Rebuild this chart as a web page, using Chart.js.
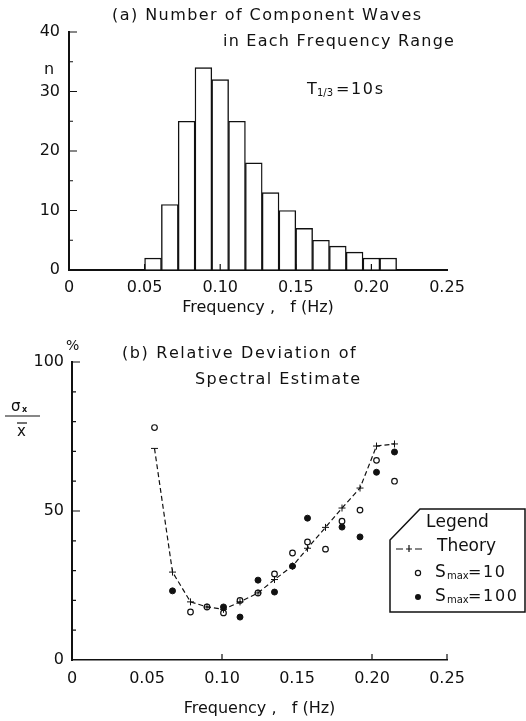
<!DOCTYPE html>
<html>
<head>
<meta charset="utf-8">
<script src="https://cdn.jsdelivr.net/npm/chart.js@4.4.1/dist/chart.umd.min.js"></script>
<style>
  html, body { margin: 0; padding: 0; background: #fff; }
  body { width: 526px; height: 721px; position: relative; overflow: hidden; }
  canvas { position: absolute; left: 0; }
  #histChart { top: 0; }
  #devChart { top: 325px; }
</style>
</head>
<body>
<canvas id="histChart" width="526" height="325"></canvas>
<canvas id="devChart" width="526" height="396"></canvas>
<script>
// (a) number of component waves in each frequency bin (bins 1/90 Hz wide, from 0.05 Hz)
const binCenters = [0.05556, 0.06667, 0.07778, 0.08889, 0.10000, 0.11111, 0.12222, 0.13333,
                    0.14444, 0.15556, 0.16667, 0.17778, 0.18889, 0.20000, 0.21111];
const waveCounts = [2, 11, 25, 34, 32, 25, 18, 13, 10, 7, 5, 4, 3, 2, 2];

// (b) relative deviation of spectral estimate (%)
const freqB   = [0.055, 0.067, 0.079, 0.090, 0.101, 0.112, 0.124, 0.135, 0.147, 0.157, 0.169, 0.180, 0.192, 0.203, 0.215];
const theory  = [71, 29.5, 19.5, 17.8, 17, 19.5, 22.5, 27, 31.5, 37.5, 44.5, 51, 57.7, 71.8, 72.5];
const smax10  = [78, null, 16.1, 17.8, 15.8, 20, 22.5, 28.9, 35.9, 39.6, 37.2, 46.6, 50.3, 67, 60];
const smax100 = [null, 23.2, null, null, 17.8, 14.4, 26.8, 22.8, 31.5, 47.6, null, 44.6, 41.3, 63, 69.8];

const INK = '#111';
const FONT = '"DejaVu Sans", sans-serif';

function pairs(xs, ys) {
  const out = [];
  xs.forEach((x, i) => { if (ys[i] !== null) out.push({ x: x, y: ys[i] }); });
  return out;
}

const fmtFreq = v => (v === 0 ? '0' : v.toFixed(2));

// draw text letter by letter so it spans a given width (lettering is widely spaced)
function spaced(ctx, text, x, y, width) {
  const natural = ctx.measureText(text).width;
  const extra = text.length > 1 ? Math.max(0, (width - natural) / (text.length - 1)) : 0;
  let cx = x;
  for (const ch of text) {
    ctx.fillText(ch, cx, y);
    cx += ctx.measureText(ch).width + extra;
  }
  return cx - extra;
}

// small tick marks drawn inwards from the axes
const innerTicks = {
  id: 'innerTicks',
  afterDatasetsDraw(chart, args, opts) {
    const { ctx, chartArea, scales } = chart;
    const x = scales.x, y = scales.y;
    ctx.save();
    ctx.strokeStyle = INK;
    ctx.lineWidth = 1.2;
    ctx.beginPath();
    (opts.yMajor || []).forEach(v => {
      const py = y.getPixelForValue(v);
      ctx.moveTo(chartArea.left, py); ctx.lineTo(chartArea.left + 8, py);
    });
    (opts.yMinor || []).forEach(v => {
      const py = y.getPixelForValue(v);
      ctx.moveTo(chartArea.left, py); ctx.lineTo(chartArea.left + 4, py);
    });
    (opts.xMajor || []).forEach(v => {
      const px = x.getPixelForValue(v);
      ctx.moveTo(px, chartArea.bottom); ctx.lineTo(px, chartArea.bottom - 6);
    });
    ctx.stroke();
    ctx.restore();
  }
};

// (a) texts
const histNotes = {
  id: 'histNotes',
  afterDraw(chart) {
    const ctx = chart.ctx;
    ctx.save();
    ctx.fillStyle = INK;
    ctx.textBaseline = 'middle';
    ctx.textAlign = 'left';
    ctx.font = '16px ' + FONT;
    spaced(ctx, '(a) Number of Component Waves', 112, 16, 308);
    spaced(ctx, 'in Each Frequency Range', 223, 42, 229);
    ctx.fillText('n', 44, 70);
    // T1/3 = 10s
    ctx.fillText('T', 307, 90);
    ctx.font = '10px ' + FONT;
    ctx.fillText('1/3', 317, 93);
    ctx.font = '16px ' + FONT;
    spaced(ctx, '=10s', 336, 90, 47);
    ctx.restore();
  }
};

// (b) texts, y label and legend box
const devNotes = {
  id: 'devNotes',
  afterDraw(chart) {
    const ctx = chart.ctx;
    ctx.save();
    ctx.fillStyle = INK;
    ctx.strokeStyle = INK;
    ctx.textBaseline = 'middle';
    ctx.textAlign = 'left';
    ctx.font = '16px ' + FONT;
    spaced(ctx, '(b) Relative Deviation of', 122, 29, 233);
    spaced(ctx, 'Spectral Estimate', 195, 55, 165);
    ctx.font = '14px ' + FONT;
    ctx.fillText('%', 66, 21);

    // sigma_x over x-bar
    ctx.font = '15px ' + FONT;
    ctx.fillText('\u03c3', 11, 82);
    ctx.font = 'bold 8px ' + FONT;
    ctx.fillText('x', 22, 85);
    ctx.lineWidth = 1.2;
    ctx.beginPath();
    ctx.moveTo(5, 91); ctx.lineTo(40, 91);
    ctx.stroke();
    ctx.font = '15px ' + FONT;
    ctx.fillText('x', 17, 107);
    ctx.beginPath();
    ctx.moveTo(17, 98); ctx.lineTo(27, 98);
    ctx.stroke();

    // legend box with cut corner
    ctx.lineWidth = 1.5;
    ctx.beginPath();
    ctx.moveTo(390, 287);
    ctx.lineTo(390, 215);
    ctx.lineTo(420, 184);
    ctx.lineTo(525, 184);
    ctx.lineTo(525, 287);
    ctx.closePath();
    ctx.stroke();

    ctx.font = '17px ' + FONT;
    spaced(ctx, 'Legend', 426, 198, 61);
    spaced(ctx, 'Theory', 437, 222, 58);

    // theory sample: dashed line with a cross
    ctx.lineWidth = 1.2;
    ctx.beginPath();
    ctx.moveTo(396, 224); ctx.lineTo(403, 224);
    ctx.moveTo(415, 224); ctx.lineTo(422, 224);
    ctx.moveTo(406, 224); ctx.lineTo(412, 224);
    ctx.moveTo(409, 220); ctx.lineTo(409, 227);
    ctx.stroke();

    // open circle sample
    ctx.beginPath();
    ctx.arc(418, 248, 2.6, 0, Math.PI * 2);
    ctx.stroke();
    // filled circle sample
    ctx.beginPath();
    ctx.arc(418, 272, 3, 0, Math.PI * 2);
    ctx.fill();

    [['=10', 248, 505], ['=100', 272, 517]].forEach(([rest, yy, endX]) => {
      ctx.font = '17px ' + FONT;
      ctx.fillText('S', 435, yy);
      ctx.font = '10px ' + FONT;
      ctx.fillText('max', 447, yy + 3);
      ctx.font = '16px ' + FONT;
      const startX = 468;
      spaced(ctx, rest, startX, yy, endX - startX);
    });
    ctx.restore();
  }
};

const tickFont = { family: FONT, size: 16 };
const titleFont = { family: FONT, size: 16 };

new Chart(document.getElementById('histChart'), {
  type: 'bar',
  data: {
    datasets: [{
      label: 'n',
      data: pairs(binCenters, waveCounts),
      backgroundColor: '#fff',
      borderColor: INK,
      borderWidth: 1.4,
      barPercentage: 1,
      categoryPercentage: 1
    }]
  },
  options: {
    responsive: false,
    animation: false,
    layout: { padding: { left: 0, right: 79, top: 32, bottom: 5 } },
    plugins: {
      legend: { display: false },
      tooltip: { enabled: false },
      innerTicks: { yMajor: [10, 20, 30, 40], yMinor: [5, 15, 25, 35], xMajor: [0.05, 0.10, 0.15, 0.20] }
    },
    scales: {
      x: {
        type: 'linear', min: 0, max: 0.25, offset: false,
        ticks: { stepSize: 0.05, callback: fmtFreq, font: tickFont, color: INK, padding: 8, maxRotation: 0, autoSkip: false },
        grid: { display: true, drawOnChartArea: false, drawTicks: false },
        border: { color: INK, width: 2 },
        title: { display: true, text: 'Frequency ,   f (Hz)', font: titleFont, color: INK, padding: { top: 0, bottom: 3 } },
        afterFit: s => { s.height = 50; }
      },
      y: {
        min: 0, max: 40,
        ticks: { stepSize: 10, font: tickFont, color: INK, padding: 9 },
        grid: { display: true, drawOnChartArea: false, drawTicks: false },
        border: { color: INK, width: 2 },
        afterFit: s => { s.width = 69; }
      }
    }
  },
  plugins: [innerTicks, histNotes]
});

new Chart(document.getElementById('devChart'), {
  type: 'scatter',
  data: {
    datasets: [
      {
        type: 'line',
        label: 'Theory',
        data: pairs(freqB, theory),
        borderColor: INK,
        borderWidth: 1.2,
        borderDash: [5, 3],
        tension: 0,
        fill: false,
        pointStyle: freqB.map((f, i) => (i === 0 ? 'line' : 'cross')),
        pointRadius: 3.5,
        pointBorderWidth: 1,
        pointBorderColor: INK,
        pointBackgroundColor: INK
      },
      {
        label: 'Smax=10',
        data: pairs(freqB, smax10),
        pointStyle: 'circle',
        pointRadius: 2.8,
        pointBorderWidth: 1.2,
        pointBorderColor: INK,
        pointBackgroundColor: '#fff',
        showLine: false
      },
      {
        label: 'Smax=100',
        data: pairs(freqB, smax100),
        pointStyle: 'circle',
        pointRadius: 3,
        pointBorderWidth: 1,
        pointBorderColor: INK,
        pointBackgroundColor: INK,
        showLine: false
      }
    ]
  },
  options: {
    responsive: false,
    animation: false,
    layout: { padding: { left: 0, right: 79, top: 37, bottom: 3 } },
    plugins: {
      legend: { display: false },
      tooltip: { enabled: false },
      innerTicks: { yMajor: [50, 100], yMinor: [10, 20, 30, 40, 60, 70, 80, 90], xMajor: [0.10, 0.20, 0.25] }
    },
    scales: {
      x: {
        type: 'linear', min: 0, max: 0.25,
        ticks: { stepSize: 0.05, callback: fmtFreq, font: tickFont, color: INK, padding: 9, maxRotation: 0, autoSkip: false },
        grid: { display: true, drawOnChartArea: false, drawTicks: false },
        border: { color: INK, width: 1.5 },
        title: { display: true, text: 'Frequency ,   f (Hz)', font: titleFont, color: INK, padding: { top: 0, bottom: 0 } },
        afterFit: s => { s.height = 58; }
      },
      y: {
        min: 0, max: 100,
        ticks: { stepSize: 50, font: tickFont, color: INK, padding: 8 },
        grid: { display: true, drawOnChartArea: false, drawTicks: false },
        border: { color: INK, width: 2 },
        afterFit: s => { s.width = 72; }
      }
    }
  },
  plugins: [innerTicks, devNotes]
});
</script>
</body>
</html>
